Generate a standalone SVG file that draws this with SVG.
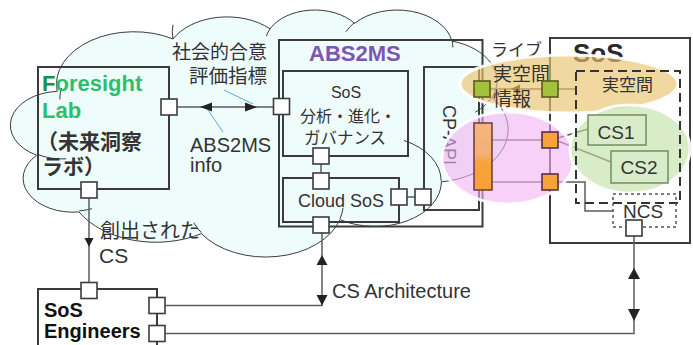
<svg xmlns="http://www.w3.org/2000/svg" width="693" height="345" viewBox="0 0 693 345">
  <defs>
    <style>
      .cloud { fill: #effcfc; stroke: #3c3c3c; stroke-width: 1; vector-effect: non-scaling-stroke; }
      .puff { fill: none; stroke: #3c3c3c; stroke-width: 1; vector-effect: non-scaling-stroke; }
      .box { fill: none; stroke: #3b3b3b; stroke-width: 2; }
      .port { fill: #ffffff; stroke: #3b3b3b; stroke-width: 1.6; }
      .wire { fill: none; stroke: #5c5c5c; stroke-width: 1.5; }
      .lead { fill: none; stroke: #5aa8e0; stroke-width: 1; }
      .head { fill: #222222; }
      .t { font-family: "Liberation Sans", Arial, sans-serif; fill: #333333; }
      .b { font-family: "Liberation Sans", Arial, sans-serif; font-weight: bold; }
      .j { font-family: "Noto Sans CJK JP", "Noto Sans CJK SC", sans-serif; fill: #333333; }
      .zone { stroke: #ffffff; stroke-width: 3; stroke-opacity: 0.9; }
      .gport { fill: #a3c23b; stroke: #5a5a1e; stroke-width: 1.6; }
      .oport { fill: #f8a23a; stroke: #5b2d4a; stroke-width: 1.6; }
      .cs { fill: #d8ecca; stroke: #6f8f5f; stroke-width: 1.5; }
    </style>
    <linearGradient id="barFill" x1="0" y1="0" x2="0" y2="1">
      <stop offset="0" stop-color="#f3b57e"/>
      <stop offset="0.45" stop-color="#f4b078"/>
      <stop offset="0.6" stop-color="#f8a23c"/>
      <stop offset="1" stop-color="#f9a035"/>
    </linearGradient>
  </defs>

  <rect width="693" height="345" fill="#ffffff"/>

  <!-- cloud outline (preset cloud geometry in a 43200 unit box) -->
  <g id="cloud" transform="translate(12.41 9.22) scale(0.01147 0.005716)">
    <path class="cloud" d="M3900 14370 A6753 9190 0 0 1 14005 5202 A5333 7267 0 0 1 22457 3429 A4365 5945 0 0 1 29833 2476 A4857 6595 0 0 1 38319 5571 A5333 7273 0 0 1 41819 15455 A6775 9220 0 0 1 37404 30197 A5785 7867 0 0 1 28555 36807 A6752 9215 0 0 1 16480 39258 A7720 10543 0 0 1 5804 35466 A4360 5918 0 0 1 2113 25544 A4345 5945 0 0 1 3900 14370 Z"/>
    <path class="puff" d="M4693 26177 A4345 5945 0 0 1 2160 25380 M6928 34899 A4360 5918 0 0 1 5820 35281 M16478 39090 A6752 9215 0 0 1 15810 37349 M28827 34751 A6752 9215 0 0 1 28560 36660 M34129 22954 A5785 7867 0 0 1 37380 30090 M41798 15354 A5333 7273 0 0 1 40350 18030 M38324 5426 A4857 6595 0 0 1 38401 6690 M29078 3952 A4857 6595 0 0 1 29820 2339 M22141 4720 A4365 5945 0 0 1 22500 3331 M14000 5192 A6753 9190 0 0 1 13999 2722 M4127 15789 A6753 9190 0 0 1 4290 13775"/>
  </g>

  <!-- Foresight Lab -->
  <g id="foresight">
    <rect class="box" x="38" y="67" width="131" height="122"/>
    <text class="b" x="42" y="91" font-size="22" fill="#30bd6f"><tspan fill="#14924c">F</tspan>oresight</text>
    <text class="b" x="42" y="118" font-size="22" fill="#30bd6f">Lab</text>
    <text class="j" x="37" y="149" font-size="21" font-weight="bold">（未来洞察</text>
    <text class="j" x="42" y="174" font-size="21" font-weight="bold">ラボ）</text>
  </g>

  <!-- ABS2MS -->
  <g id="abs2ms">
    <rect class="box" x="279" y="40" width="203.5" height="186.5"/>
    <text class="b" x="309" y="61" font-size="22" fill="#7e55b3">ABS2MS</text>
  </g>

  <g id="sos-analysis">
    <rect class="box" x="283" y="71" width="125" height="85"/>
    <text class="t" x="346" y="98" font-size="16" text-anchor="middle">SoS</text>
    <text class="j" x="348" y="122" font-size="16" text-anchor="middle">分析・進化・</text>
    <text class="j" x="345" y="144" font-size="16.5" text-anchor="middle">ガバナンス</text>
  </g>

  <g id="cloud-sos">
    <rect class="box" x="283" y="178" width="116" height="44"/>
    <text class="t" x="298" y="207" font-size="18">Cloud SoS</text>
  </g>

  <g id="cp-api">
    <rect class="box" x="424" y="67" width="55" height="143"/>
    <text class="t" font-size="18" transform="translate(443 105) rotate(90)">CP-API</text>
  </g>

  <!-- SoS system -->
  <g id="sos">
    <rect class="box" x="550" y="38" width="140" height="205"/>
    <text class="b" x="573" y="62" font-size="26" fill="#2a2a2a">SoS</text>
  </g>

  <!-- SoS Engineers -->
  <g id="engineers">
    <rect class="box" x="38" y="289" width="119" height="70"/>
    <text class="b" x="44" y="317" font-size="20" fill="#111111">SoS</text>
    <text class="b" x="44" y="338" font-size="20" fill="#111111">Engineers</text>
  </g>

  <!-- connectors -->
  <g id="connectors">
    <line class="wire" x1="177" y1="107" x2="273" y2="107"/>
    <polygon class="head" points="200,107 212,102.5 212,111.5"/>
    <polygon class="head" points="257,107 245,102.5 245,111.5"/>
    <line class="lead" x1="224" y1="90" x2="253" y2="104"/>
    <line class="lead" x1="208" y1="110" x2="223" y2="132"/>

    <line class="wire" x1="89" y1="198" x2="89" y2="283"/>
    <polygon class="head" points="89,247 84.5,238 93.5,238"/>

    <polyline class="wire" points="165,305.5 322,305.5 322,233"/>
    <polygon class="head" points="322,255 316.5,265 327.5,265"/>
    <polygon class="head" points="322,305.5 316.5,295 327.5,295"/>

    <polyline class="wire" points="165,333.5 634,333.5 634,236"/>
    <polygon class="head" points="634,268 628,279 640,279"/>
    <polygon class="head" points="634,321 628,309 640,309"/>

    <line class="wire" x1="321" y1="164" x2="321" y2="173"/>
    <line class="wire" x1="407" y1="197" x2="415" y2="197"/>

    <line class="wire" x1="490" y1="89" x2="542" y2="89" stroke="#3a3a3a"/>
    <polygon class="head" points="511,89 520,84.5 520,93.5"/>
    <line class="wire" x1="558" y1="89" x2="576" y2="89" stroke="#3a3a3a"/>
    <line class="wire" x1="492" y1="140" x2="542" y2="140" stroke="#3a3a3a"/>
    <line class="wire" x1="492" y1="182" x2="542" y2="182" stroke="#3a3a3a"/>
    <line class="wire" x1="558" y1="138" x2="588" y2="129" stroke="#7a5a7a" stroke-width="1.2"/>
    <line class="wire" x1="558" y1="141" x2="611" y2="162" stroke="#7a5a7a" stroke-width="1.2"/>
    <polyline class="wire" points="558,182 585,182 585,211 613,211" stroke="#808080"/>
  </g>

  <!-- labels -->
  <g id="labels">
    <text class="j" x="172" y="59" font-size="19">社会的合意</text>
    <text class="j" x="189" y="83" font-size="19.5">評価指標</text>
    <text class="t" x="190" y="152" font-size="20">ABS2MS</text>
    <text class="t" x="190" y="172" font-size="20">info</text>
    <text class="j" x="100" y="238" font-size="20">創出された</text>
    <text class="t" x="99" y="263" font-size="21">CS</text>
    <text class="t" x="332" y="298" font-size="20" fill="#222222">CS Architecture</text>
    <text class="j" x="491" y="56" font-size="17">ライブ</text>
  </g>

  <!-- highlight zones -->
  <g id="zones">
    <ellipse class="zone" cx="508" cy="158" rx="66" ry="46" fill="#f2b2f2" fill-opacity="0.6"/>
    <ellipse class="zone" cx="569" cy="84" rx="109" ry="29" fill="#e8c36d" fill-opacity="0.65"/>
    <ellipse class="zone" cx="630" cy="149" rx="60" ry="44" fill="#bedfa3" fill-opacity="0.6"/>
  </g>

  <!-- physical space -->
  <g id="real-space">
    <rect x="576" y="71" width="104" height="132" fill="none" stroke="#333333" stroke-width="2" stroke-dasharray="9 5"/>
    <text class="j" x="602" y="91" font-size="17" fill="#4d3d12">実空間</text>
  </g>

  <g id="ncs">
    <rect x="613" y="194" width="63" height="33" fill="none" stroke="#555555" stroke-width="1.5" stroke-dasharray="3 3"/>
    <text class="t" x="623" y="218" font-size="19">NCS</text>
  </g>

  <g id="cs1">
    <rect class="cs" x="588" y="115" width="58" height="30"/>
    <text class="t" x="616" y="139" font-size="19" text-anchor="middle">CS1</text>
  </g>
  <g id="cs2">
    <rect class="cs" x="611" y="151" width="57" height="32"/>
    <text class="t" x="639" y="174" font-size="19" text-anchor="middle">CS2</text>
  </g>

  <g id="live-info">
    <text class="j" x="493" y="81" font-size="19" fill="#4d3d12">実空間</text>
    <text class="j" x="493" y="106" font-size="19" fill="#4d3d12">情報</text>
  </g>

  <!-- ports -->
  <g id="ports">
    <rect class="port" x="161" y="99" width="16" height="16"/>
    <rect class="port" x="81" y="182" width="16" height="16"/>
    <rect class="port" x="273.5" y="98.5" width="16" height="16"/>
    <rect class="port" x="313" y="148" width="16" height="16"/>
    <rect class="port" x="313" y="173" width="16" height="16"/>
    <rect class="port" x="313" y="217" width="16" height="16"/>
    <rect class="port" x="391" y="189" width="16" height="16"/>
    <rect class="port" x="415" y="189" width="16" height="16"/>
    <rect class="port" x="81" y="282.5" width="16" height="16"/>
    <rect class="port" x="149" y="297.5" width="16" height="16"/>
    <rect class="port" x="149" y="325.5" width="16" height="16"/>
    <rect class="port" x="626" y="220" width="16" height="16"/>
    <rect class="gport" x="474" y="81" width="16" height="16"/>
    <rect class="gport" x="542" y="81" width="16" height="16"/>
    <rect x="474" y="123" width="18" height="67" fill="url(#barFill)" stroke="#6b3a3a" stroke-width="1.5"/>
    <rect class="oport" x="542" y="132" width="16" height="16"/>
    <rect class="oport" x="542" y="174" width="16" height="16"/>
  </g>
</svg>
